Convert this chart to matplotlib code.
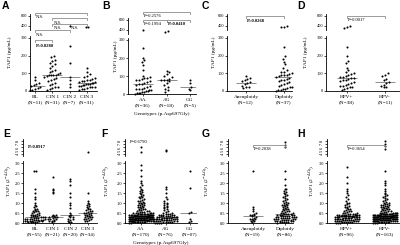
import numpy as np
import matplotlib
matplotlib.use("Agg")
import matplotlib.pyplot as plt
from matplotlib import transforms

plt.rcParams['font.family'] = ['Liberation Serif', 'DejaVu Serif']
plt.rcParams['mathtext.fontset'] = 'stix'

# ---------------- data ----------------
# Row 1: TAP1 (pg/mL)
A_cats = ["BL", "CIN 1", "CIN 2", "CIN 3"]
A_ns = ["(N=11)", "(N=31)", "(N=7)", "(N=31)"]
A_BL = [80, 62, 48, 40, 35, 30, 22, 15, 10, 6, 3]
A_CIN1 = [200, 190, 178, 172, 160, 150, 140, 130, 120, 112, 105, 100, 96, 93, 91, 90,
          88, 85, 80, 75, 70, 62, 55, 48, 40, 32, 25, 20, 15, 10, 5]
A_CIN2 = [400, 255, 160, 78, 60, 40, 20]
A_CIN3 = [375, 370, 130, 110, 95, 85, 80, 75, 70, 65, 60, 58, 55, 52, 50, 48, 45, 42, 40,
          38, 35, 32, 30, 28, 25, 22, 20, 15, 12, 10, 5]

B_cats = ["AA", "AG", "GG"]
B_ns = ["(N=36)", "(N=18)", "(N=5)"]
B_AA = [400, 255, 200, 190, 175, 160, 135, 100, 95, 90, 88, 85, 80, 75, 70, 65, 60, 57,
        55, 50, 45, 40, 35, 30, 28, 25, 22, 20, 18, 15, 12, 10, 8, 5, 3, 2]
B_AG = [370, 365, 130, 120, 110, 100, 95, 85, 80, 78, 75, 70, 60, 50, 40, 30, 20, 10]
B_GG = [80, 60, 40, 30, 20]

C_cats = ["Aneuploidy", "Diploidy"]
C_ns = ["(N=12)", "(N=37)"]
C_An = [85, 75, 70, 60, 55, 50, 45, 40, 30, 25, 20, 15]
C_Dip = [390, 380, 370, 250, 200, 180, 165, 150, 130, 120, 110, 105, 100, 95, 92, 90, 88,
         85, 80, 75, 70, 65, 60, 55, 50, 45, 40, 35, 30, 25, 20, 15, 12, 10, 5, 3, 2]

D_cats = ["HPV+", "HPV-"]
D_ns = ["(N=38)", "(N=11)"]
D_Pos = [390, 375, 365, 250, 200, 170, 160, 130, 120, 110, 100, 95, 90, 85, 80, 78, 75,
         72, 70, 65, 60, 55, 50, 45, 40, 35, 30, 28, 25, 20, 15, 10, 5]
D_Neg = [100, 90, 85, 70, 60, 50, 45, 35, 30, 25, 20]

# Row 2: TAP1 (2^-dCq)
E_cats = ["BL", "CIN 1", "CIN 2", "CIN 3"]
E_ns = ["(N=55)", "(N=21)", "(N=20)", "(N=34)"]
E_BL = [2.62, 2.6, 1.72, 1.5, 1.3, 1.2, 1.0, 0.92, 0.85, 0.8, 0.72, 0.68, 0.65, 0.62, 0.6,
        0.58, 0.55, 0.5, 0.48, 0.45, 0.42, 0.4, 0.4, 0.38, 0.36, 0.35, 0.33, 0.32, 0.3, 0.3,
        0.28, 0.26, 0.25, 0.24, 0.22, 0.21, 0.2, 0.2, 0.18, 0.17, 0.16, 0.15, 0.14, 0.13,
        0.12, 0.11, 0.1, 0.1, 0.09, 0.08, 0.07, 0.06, 0.05, 0.04, 0.03]
E_CIN1 = [2.3, 1.72, 1.65, 1.55, 1.48, 0.4, 0.38, 0.36, 0.35, 0.32, 0.3, 0.28, 0.25, 0.22,
          0.2, 0.18, 0.15, 0.12, 0.1, 0.08, 0.05]
E_CIN2 = [2.2, 2.12, 1.9, 1.5, 1.3, 1.0, 0.9, 0.75, 0.5, 0.42, 0.38, 0.35, 0.3, 0.28, 0.22,
          0.18, 0.15, 0.1, 0.06, 0.03]
E_CIN3 = [4.8, 1.5, 1.12, 1.02, 0.95, 0.9, 0.85, 0.8, 0.75, 0.7, 0.68, 0.65, 0.6, 0.58,
          0.55, 0.52, 0.5, 0.48, 0.45, 0.42, 0.4, 0.38, 0.36, 0.34, 0.32, 0.3, 0.28, 0.25,
          0.22, 0.2, 0.18, 0.15, 0.12, 0.1]

F_cats = ["AA", "AG", "GG"]
F_ns = ["(N=170)", "(N=76)", "(N=07)"]
F_AA = [6.0, 4.6, 2.9, 2.65, 2.35, 2.1, 2.0, 1.9, 1.8, 1.72, 1.65, 1.6, 1.55, 1.5,
        1.45, 1.4, 1.35, 1.3, 1.28, 1.25, 1.2, 1.15, 1.12, 1.1, 1.05, 1.02, 1.0,
        0.98, 0.95, 0.92, 0.9, 0.88, 0.85, 0.82, 0.8, 0.78, 0.75, 0.72, 0.7, 0.68, 0.66,
        0.64, 0.62, 0.6, 0.58, 0.56, 0.55, 0.54, 0.52, 0.51, 0.5,
        0.49, 0.48, 0.48, 0.47, 0.46, 0.46, 0.45, 0.45, 0.44, 0.43, 0.43, 0.42, 0.42, 0.41,
        0.4, 0.4, 0.4, 0.39, 0.39, 0.38, 0.38, 0.38, 0.37, 0.37, 0.37, 0.36, 0.36, 0.36,
        0.36, 0.35, 0.35, 0.35, 0.35, 0.35,
        0.34, 0.34, 0.33, 0.33, 0.33, 0.32, 0.32, 0.32, 0.31, 0.31, 0.3, 0.3, 0.3, 0.29,
        0.29, 0.29, 0.28, 0.28, 0.28, 0.27, 0.27, 0.27, 0.27, 0.26, 0.26, 0.26, 0.25, 0.25,
        0.25, 0.24, 0.24, 0.24, 0.23, 0.23, 0.23, 0.22, 0.22, 0.22, 0.21, 0.21, 0.21, 0.2,
        0.2, 0.2, 0.19, 0.19, 0.19, 0.18, 0.18, 0.18, 0.17, 0.17, 0.17, 0.17, 0.16, 0.16,
        0.16, 0.15, 0.15, 0.15, 0.14, 0.14, 0.14, 0.13, 0.13, 0.13, 0.12, 0.12, 0.12, 0.11,
        0.11, 0.1, 0.1, 0.09, 0.09, 0.08, 0.08, 0.07, 0.07, 0.06, 0.06, 0.05, 0.05, 0.04,
        0.03, 0.02, 0.01]
F_AG = [5.3, 5.0, 1.8, 1.7, 1.5, 1.3, 1.2, 1.1, 1.02, 1.0, 0.95, 0.9, 0.85, 0.8, 0.78,
        0.75, 0.7, 0.65, 0.6, 0.55, 0.5,
        0.48, 0.46, 0.45, 0.44, 0.42, 0.41, 0.4, 0.39, 0.38, 0.37, 0.36, 0.35, 0.34, 0.33,
        0.32, 0.31, 0.3,
        0.29, 0.28, 0.28, 0.27, 0.26, 0.25, 0.25, 0.24, 0.23, 0.22, 0.22, 0.21, 0.2, 0.2,
        0.19, 0.18, 0.18, 0.17, 0.16, 0.15, 0.15, 0.14, 0.13, 0.12, 0.12, 0.11, 0.1, 0.09,
        0.08, 0.07, 0.06, 0.05, 0.04, 0.03, 0.02, 0.01, 0.01, 0.005]
F_GG = [2.6, 1.75, 0.55, 0.5, 0.2, 0.08, 0.03]

G_cats = ["Aneuploidy", "Diploidy"]
G_ns = ["(N=19)", "(N=86)"]
G_An = [2.6, 0.8, 0.72, 0.62, 0.48, 0.44, 0.42, 0.4, 0.38, 0.36, 0.3, 0.25, 0.22, 0.2,
        0.18, 0.15, 0.12, 0.08, 0.05]
G_Dip = [7.5, 6.8, 6.0, 2.6, 2.2, 1.9, 1.72, 1.68, 1.6, 1.55, 1.5, 1.45, 1.4, 1.35, 1.3,
         1.25, 1.2, 1.15, 1.1, 1.05, 1.0, 0.98, 0.95, 0.92, 0.9, 0.88, 0.85, 0.8, 0.78,
         0.75, 0.72, 0.7, 0.68, 0.65, 0.62, 0.6, 0.58, 0.55, 0.52, 0.5, 0.48, 0.47, 0.46,
         0.44, 0.43, 0.42, 0.41, 0.4, 0.39, 0.38, 0.37, 0.36, 0.35, 0.34, 0.33, 0.32, 0.31,
         0.3, 0.29, 0.28, 0.27, 0.26, 0.25, 0.24, 0.23, 0.22, 0.21, 0.2, 0.19, 0.18, 0.17,
         0.16, 0.15, 0.14, 0.13, 0.12, 0.11, 0.1, 0.09, 0.08, 0.07, 0.06, 0.05, 0.04, 0.03,
         0.02]

H_cats = ["HPV+", "HPV-"]
H_ns = ["(N=96)", "(N=163)"]
H_Pos = [2.8, 2.3, 2.0, 1.7, 1.6, 1.5, 1.4, 1.3, 1.2, 1.1, 1.0, 0.98, 0.95, 0.9, 0.85,
         0.82, 0.8, 0.75, 0.7, 0.68, 0.65, 0.62, 0.6, 0.58, 0.55, 0.52, 0.5, 0.48, 0.46,
         0.45, 0.44, 0.43, 0.42, 0.41, 0.41, 0.4, 0.4, 0.39, 0.39, 0.38, 0.38, 0.37, 0.37,
         0.36, 0.36, 0.35, 0.35, 0.34, 0.34, 0.33, 0.33, 0.32, 0.32, 0.31, 0.31, 0.3, 0.3,
         0.29, 0.28, 0.28, 0.27, 0.26, 0.25, 0.25, 0.24, 0.23, 0.22, 0.22, 0.21, 0.2, 0.2,
         0.19, 0.18, 0.18, 0.17, 0.16, 0.15, 0.15, 0.14, 0.13, 0.12, 0.12, 0.11, 0.1, 0.09,
         0.08, 0.08, 0.07, 0.06, 0.05, 0.05, 0.04, 0.03, 0.02, 0.02, 0.01]
H_Neg = [7.8, 7.0, 6.3, 5.7, 2.6, 2.1, 2.0, 1.9, 1.7, 1.6, 1.5, 1.45, 1.4, 1.35, 1.3, 1.25,
         1.2, 1.15, 1.1, 1.05, 1.0,
         0.98, 0.96, 0.94, 0.92, 0.9, 0.88, 0.86, 0.84, 0.82, 0.8, 0.78, 0.76, 0.74, 0.72,
         0.7, 0.68, 0.66, 0.64, 0.62, 0.6, 0.58, 0.56, 0.54, 0.52, 0.5,
         0.49, 0.49, 0.48, 0.48, 0.47, 0.47, 0.46, 0.46, 0.45, 0.45, 0.44, 0.44, 0.43, 0.43,
         0.42, 0.42, 0.41, 0.41, 0.4, 0.4, 0.4, 0.39, 0.39, 0.38, 0.38, 0.38, 0.37, 0.37,
         0.37, 0.36, 0.36, 0.36, 0.35, 0.35, 0.35,
         0.34, 0.34, 0.34, 0.33, 0.33, 0.33, 0.32, 0.32, 0.32, 0.31, 0.31, 0.31, 0.3, 0.3,
         0.3, 0.29, 0.29, 0.29, 0.28, 0.28, 0.28, 0.27, 0.27, 0.27, 0.26, 0.26, 0.26, 0.25,
         0.25, 0.25, 0.24, 0.24, 0.24, 0.23, 0.23, 0.23, 0.22, 0.22, 0.22, 0.21, 0.21, 0.21,
         0.2, 0.2, 0.2, 0.19, 0.19, 0.19, 0.18, 0.18, 0.18, 0.17, 0.17, 0.17, 0.16, 0.16,
         0.15, 0.15, 0.14, 0.14, 0.13, 0.13, 0.12, 0.12, 0.11, 0.11, 0.1, 0.1, 0.09, 0.09,
         0.08, 0.08, 0.07, 0.07, 0.06, 0.05, 0.05, 0.04, 0.03, 0.02, 0.02, 0.01]

# ---------------- layout ----------------
W, H = 400, 245
fig = plt.figure(figsize=(W / 100, H / 100), dpi=100)
GREY = '#8c8c8c'
FS_TICK = 3.2
FS_CAT = 3.8


def frect(x0, x1, ytop, ybot):
    return [x0 / W, 1 - ybot / H, (x1 - x0) / W, (ybot - ytop) / H]


def swarm(ax, pos, v, bin_h, dx, maxw, ms):
    v = np.sort(np.asarray(v, float))
    if v.size == 0:
        return
    keys = np.floor(v / bin_h)
    xs = np.empty_like(v)
    for k in np.unique(keys):
        idx = np.where(keys == k)[0]
        n = len(idx)
        step = dx if n * dx <= maxw else maxw / n
        xs[idx] = pos + (np.arange(n) - (n - 1) / 2) * step
    ax.scatter(xs, v, s=ms, c='k', marker='o', linewidths=0, clip_on=False, zorder=3)


def panel(letter, lx, ly, x0, x1, c0, c1, lo, up, cats, ns, groups, ylabel, yl_off,
          lo_ticks, lo_labels, up_ticks, up_labels, up_rot, row2, xlabel=None, xlabel_y=None):
    n = len(cats)
    scale = (c1 - c0) / (n - 1)            # px per category unit
    xlim = ((x0 - c0) / scale, (x1 - c0) / scale)
    ax_lo = fig.add_axes(frect(x0, x1, lo[0], lo[1]))
    ax_up = fig.add_axes(frect(x0, x1, up[0], up[1]), sharex=ax_lo)
    ax_lo.set_xlim(*xlim)
    ax_lo.set_ylim(*lo[2])
    ax_up.set_ylim(*up[2])
    for ax in (ax_lo, ax_up):
        ax.patch.set_alpha(0)
        for s in ('top', 'right'):
            ax.spines[s].set_visible(False)
        ax.spines['left'].set_linewidth(0.6)
        ax.tick_params(axis='y', length=1.6, width=0.5, pad=0.6, labelsize=FS_TICK)
    ax_up.spines['bottom'].set_visible(False)
    ax_up.tick_params(axis='x', bottom=False, labelbottom=False)
    ax_lo.spines['bottom'].set_linewidth(0.6)
    ax_lo.set_yticks(lo_ticks)
    ax_lo.set_yticklabels(lo_labels)
    ax_up.set_yticks(up_ticks)
    ax_up.set_yticklabels(up_labels, rotation=up_rot, va='center')
    ax_lo.set_xticks(range(n))
    ax_lo.set_xticklabels([f"{c}\n{m}" for c, m in zip(cats, ns)], fontsize=FS_CAT,
                          linespacing=1.45)
    ax_lo.tick_params(axis='x', length=1.6, width=0.5, pad=1.0)
    split = lo[2][1]
    lo_ppu = (lo[1] - lo[0]) / (lo[2][1] - lo[2][0])
    up_ppu = (up[1] - up[0]) / (up[2][1] - up[2][0])
    if row2:
        dx, maxw, bh = 2.2 / scale, 25 / scale, 2.0
    else:
        dx, maxw, bh = 2.7 / scale, 18 / scale, 4.5
    for i, g in enumerate(groups):
        g = np.asarray(g, float)
        swarm(ax_lo, i, g[g <= split], bh / lo_ppu, dx, maxw, 2.2)
        swarm(ax_up, i, g[g > split], bh / up_ppu, dx, maxw, 2.2)
        med = np.median(g)
        hw = 10 / scale
        ax_lo.hlines(med, i - hw, i + hw, color=GREY, lw=0.7, zorder=2)
    yc = 1 - ((up[0] + lo[1]) / 2) / H
    fig.text((x0 - yl_off) / W, yc, ylabel, rotation=90, ha='center', va='center',
             fontsize=3.9)
    fig.text(lx / W, 1 - ly / H, letter, family=['Liberation Sans', 'DejaVu Sans'],
             weight='bold', fontsize=7.5, ha='left', va='top')
    if xlabel:
        fig.text((x0 + x1) / 2 / W, 1 - xlabel_y / H, xlabel, ha='center', va='center',
                 fontsize=3.8)
    return ax_lo, ax_up


def ptext(ax, a, py, text, bold=False):
    tr = transforms.blended_transform_factory(ax.transData, fig.transFigure)
    otr = transforms.offset_copy(tr, fig=fig, x=1.0, y=0, units='points')
    ax.text(a, 1 - py / H, text, transform=otr, fontsize=3.3, ha='left', va='center',
            weight='bold' if bold else 'normal', zorder=5)


def bracket(ax, a, b, py, text, bold=False, ty=4.0, mid=None):
    tr = transforms.blended_transform_factory(ax.transData, fig.transFigure)
    y = 1 - py / H
    t = 1.8 / H
    ax.plot([a, a, b, b], [y - t, y, y, y - t], transform=tr, color=GREY, lw=0.6,
            clip_on=False, zorder=4)
    if mid is not None:
        ax.plot([mid, mid], [y - t, y], transform=tr, color=GREY, lw=0.6, clip_on=False)
    if text:
        ptext(ax, a, py + ty, text, bold)


row1_label = "TAP1 (pg/mL)"
row2_label = r"TAP1 (2$^{-\Delta Cq}$)"
lo1_t = [0, 100, 200, 300]
lo1_l = ["0", "100", "200", "300"]
up1_t = [400, 600]
up1_l = ["400", "600"]
lo2_t = [0, 0.5, 1.0, 1.5, 2.0, 2.5, 3.0]
lo2_l = ["0.0", "0.5", "1.0", "1.5", "2.0", "2.5", "3.0"]
up2_t = [4, 5, 6, 7, 8]
up2_l = ["4", "5", "6", "7", "8"]

# ---- Row 1 ----
lo_A = (36.2, 91, (0, 310))
up_A = (14, 30, (320, 640))
axA_lo, axA_up = panel("A", 2, 1, 30, 97, 35, 87, lo_A, up_A, A_cats, A_ns,
                       [A_BL, A_CIN1, A_CIN2, A_CIN3], row1_label, 20,
                       lo1_t, lo1_l, up1_t, up1_l, 0, False)
bracket(axA_up, 0, 3, 13, "N.S.")
bracket(axA_up, 1, 3, 18.5, "N.S.")
bracket(axA_up, 1, 3, 24, "N.S.", mid=2)
ptext(axA_up, 2, 28, "N.S.")
bracket(axA_up, 0, 2, 30.5, "N.S.")
bracket(axA_up, 0, 1, 40.5, "P=0.0280", bold=True, ty=5.5)

lo_B = (38.2, 94, (0, 310))
up_B = (18, 34, (320, 640))
axB_lo, axB_up = panel("B", 102, 1, 128, 196, 143, 190, lo_B, up_B, B_cats, B_ns,
                       [B_AA, B_AG, B_GG], row1_label, 12,
                       lo1_t, lo1_l, up1_t, up1_l, 0, False,
                       xlabel="Genotypes (p.Asp697Gly)", xlabel_y=114)
bracket(axB_up, 0, 2, 12, "P=0.2576")
bracket(axB_up, 0, 1, 20, "P=0.1994")
bracket(axB_up, 1, 2, 20, "P=0.0410", bold=True)

axC_lo, axC_up = panel("C", 202, 1, 227, 292, 246, 284, lo_A, up_A, C_cats, C_ns,
                       [C_An, C_Dip], row1_label, 13,
                       lo1_t, lo1_l, up1_t, up1_l, 0, False)
bracket(axC_up, 0, 1, 16.5, "P=0.0268", bold=True)

axD_lo, axD_up = panel("D", 297, 1, 326, 399, 347, 385, lo_A, up_A, D_cats, D_ns,
                       [D_Pos, D_Neg], row1_label, 20,
                       lo1_t, lo1_l, up1_t, up1_l, 0, False)
bracket(axD_up, 0, 1, 16, "P=0.0017")

# ---- Row 2 ----
lo_E = (161, 223, (0, 3.1))
up_E = (139, 156, (3.5, 8.5))
axE_lo, axE_up = panel("E", 3, 129, 23, 97, 35, 88, lo_E, up_E, E_cats, E_ns,
                       [E_BL, E_CIN1, E_CIN2, E_CIN3], row2_label, 13.5,
                       lo2_t, lo2_l, up2_t, up2_l, 90, True)
axE_up.text(0.07, 0.55, "P=0.8917", transform=axE_up.transAxes, fontsize=3.3,
            weight='bold', va='center')

axF_lo, axF_up = panel("F", 101, 129, 125, 197, 141, 190, lo_E, up_E, F_cats, F_ns,
                       [F_AA, F_AG, F_GG], row2_label, 17,
                       lo2_t, lo2_l, up2_t, up2_l, 90, True,
                       xlabel="Genotypes (p.Asp697Gly)", xlabel_y=243)
axF_up.text(0.07, 0.85, "P=0.6790", transform=axF_up.transAxes, fontsize=3.3,
            va='center')

axG_lo, axG_up = panel("G", 202, 129, 228, 293, 253, 285, lo_E, up_E, G_cats, G_ns,
                       [G_An, G_Dip], row2_label, 20,
                       lo2_t, lo2_l, up2_t, up2_l, 90, True)
bracket(axG_up, 0, 1, 145, "P=0.2038")

axH_lo, axH_up = panel("H", 297, 129, 327, 399, 347, 385, lo_E, up_E, H_cats, H_ns,
                       [H_Pos, H_Neg], row2_label, 14.5,
                       lo2_t, lo2_l, up2_t, up2_l, 90, True)
bracket(axH_up, 0, 1, 145, "P=0.3654")

fig.savefig("out.png", dpi=100)
